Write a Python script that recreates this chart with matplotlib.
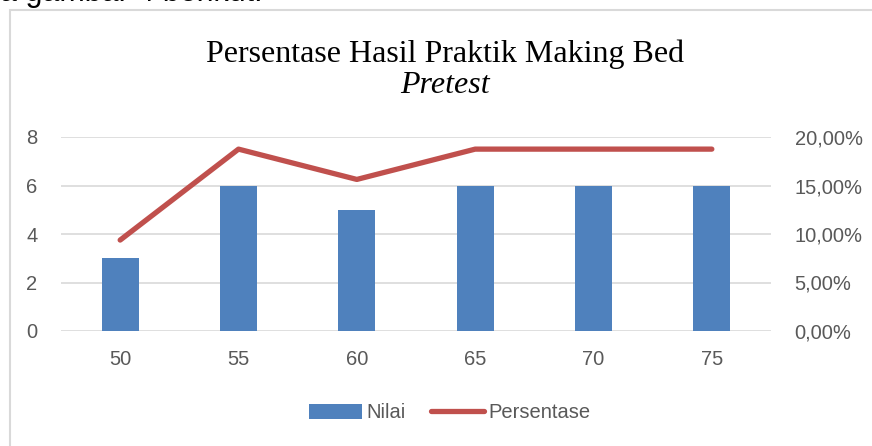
import matplotlib
matplotlib.use("Agg")
import matplotlib.pyplot as plt
from matplotlib.patches import Rectangle
from matplotlib.ticker import FuncFormatter

categories = ["50", "55", "60", "65", "70", "75"]
nilai = [3, 6, 5, 6, 6, 6]
persentase = [0.09375, 0.1875, 0.15625, 0.1875, 0.1875, 0.1875]

W, H = 872, 446
fig = plt.figure(figsize=(W / 100, H / 100), dpi=100)

# chart border (partially cropped)
fig.patches.append(Rectangle((9.5 / W, -0.1), 1.2, 1.1 - 10.5 / H,
                             transform=fig.transFigure, fill=False,
                             edgecolor="#d9d9d9", linewidth=1.5))
# cropped document text above the chart
fig.text(262 / W, 1 - 1.0 / H, "a gambar 4 berikut.", ha="right", va="baseline",
         fontsize=22, family="Liberation Sans", color="black")

ax = fig.add_axes([61 / W, 115 / H, 710 / W, 194 / H])
x = list(range(len(categories)))
ax.bar(x, nilai, width=0.31, color="#4F81BD", zorder=2, label="Nilai")
ax.set_ylim(0, 8)
ax.set_yticks([0, 2, 4, 6, 8])
ax.set_xlim(-0.5, len(categories) - 0.5)
ax.set_xticks(x)
ax.set_xticklabels(categories)
ax.grid(axis="y", color="#d9d9d9", linewidth=1.2, zorder=0)
for s in ax.spines.values():
    s.set_visible(False)
ax.tick_params(length=0, labelsize=14.5, colors="#595959", pad=17)
ax.tick_params(axis="x", pad=14)

ax2 = ax.twinx()
ax2.plot(x, persentase, color="#C0504D", linewidth=3.8, solid_capstyle="round",
         label="Persentase", zorder=3)
ax2.set_ylim(0, 0.2)
ax2.set_yticks([0, 0.05, 0.10, 0.15, 0.20])
ax2.yaxis.set_major_formatter(FuncFormatter(lambda v, p: f"{v*100:.2f}%".replace(".", ",")))
for s in ax2.spines.values():
    s.set_visible(False)
ax2.tick_params(length=0, labelsize=14.5, colors="#595959", pad=17)

for a in (ax, ax2):
    for lab in a.get_xticklabels() + a.get_yticklabels():
        lab.set_family("Liberation Sans")

fig.text(445 / W, 1 - 62 / H, "Persentase Hasil Praktik Making Bed", ha="center", va="baseline",
         fontsize=23, family="Liberation Serif", color="black")
fig.text(445 / W, 1 - 93 / H, "Pretest", ha="center", va="baseline",
         fontsize=23, family="Liberation Serif", style="italic", color="black")

h1, l1 = ax.get_legend_handles_labels()
h2, l2 = ax2.get_legend_handles_labels()
leg = fig.legend(h1 + h2, l1 + l2, loc="center", bbox_to_anchor=(450 / W, 33 / H), ncol=2,
                 frameon=False, handlelength=2.6, handletextpad=0.25, columnspacing=1.25,
                 prop={"family": "Liberation Sans", "size": 14.5})
for t in leg.get_texts():
    t.set_color("#595959")

fig.savefig("out.png", dpi=100)
